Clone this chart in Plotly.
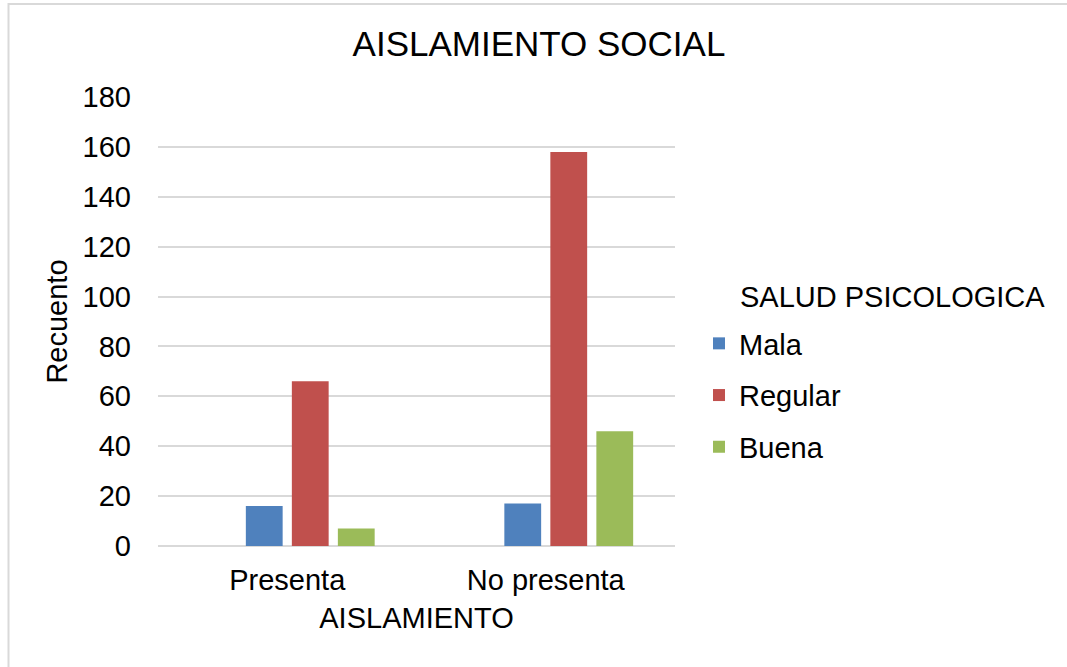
import plotly.graph_objects as go

# Counts of psychological health level by isolation status
categories = ["Presenta", "No presenta"]
mala = [16, 17]
regular = [66, 158]
buena = [7, 46]

series_names = ["Mala", "Regular", "Buena"]
series_values = [mala, regular, buena]
series_colors = ["#4F81BD", "#C0504D", "#9BBB59"]

y_ticks = [0, 20, 40, 60, 80, 100, 120, 140, 160, 180]

FONT = "Liberation Sans, Arial, sans-serif"
FS = 29

W, H = 1067, 667
L, R, T, B = 158, 392, 97, 121  # plot area margins in px
plot_w = W - L - R
plot_h = H - T - B


def px_to_paper_x(px):
    return (px - L) / plot_w


def px_to_paper_y(py):
    return (H - B - py) / plot_h


fig = go.Figure()

# empty leading series (keeps the first slot of each group blank)
fig.add_trace(go.Bar(x=categories, y=[None, None], name="", showlegend=False,
                     hoverinfo="skip", marker_color="rgba(0,0,0,0)"))

for name, vals, col in zip(series_names, series_values, series_colors):
    fig.add_trace(go.Bar(
        x=categories, y=vals, name=name,
        marker=dict(color=col, line=dict(width=0)),
        legendgroup=name,
    ))

fig.update_layout(
    width=W, height=H,
    margin=dict(l=L, r=R, t=T, b=B, pad=0),
    paper_bgcolor="white", plot_bgcolor="white",
    barmode="group", bargap=0.288, bargroupgap=0.2,
    font=dict(family=FONT, size=FS, color="#000000"),
    title=dict(text="AISLAMIENTO SOCIAL", x=539 / W, xanchor="center",
               y=1 - 44 / H, yanchor="middle", yref="container",
               font=dict(family=FONT, size=35, color="#000000")),
    showlegend=True,
    legend=dict(
        x=px_to_paper_x(699), xanchor="left",
        y=px_to_paper_y(318), yanchor="top",
        font=dict(family=FONT, size=FS, color="#000000"),
        bgcolor="rgba(0,0,0,0)", borderwidth=0,
        tracegroupgap=11, itemwidth=30,
    ),
    xaxis=dict(
        type="category", range=[-0.5, 1.5],
        showgrid=False, showline=False, zeroline=False,
        ticks="", ticklabelstandoff=14,
        tickfont=dict(family=FONT, size=FS, color="#000000"),
        title=dict(text="AISLAMIENTO", font=dict(family=FONT, size=FS, color="#000000"),
                   standoff=12),
    ),
    yaxis=dict(
        range=[0, 180], tickvals=y_ticks,
        showgrid=True, gridcolor="#D9D9D9", gridwidth=1.5,
        zeroline=True, zerolinecolor="#D9D9D9", zerolinewidth=1.5,
        showline=False, ticks="", ticklabelstandoff=26,
        tickfont=dict(family=FONT, size=FS, color="#000000"),
        title=dict(text="Recuento", font=dict(family=FONT, size=FS, color="#000000"),
                   standoff=6),
    ),
    annotations=[dict(
        text="SALUD PSICOLOGICA", xref="paper", yref="paper",
        x=px_to_paper_x(738), xanchor="left",
        y=px_to_paper_y(297), yanchor="middle",
        showarrow=False, font=dict(family=FONT, size=FS, color="#000000"),
    )],
    shapes=[dict(
        type="rect", xref="paper", yref="paper",
        x0=px_to_paper_x(8.5), x1=px_to_paper_x(W + 5),
        y0=px_to_paper_y(H + 5), y1=px_to_paper_y(4),
        line=dict(color="#D9D9D9", width=2), fillcolor="rgba(0,0,0,0)",
        layer="below",
    )],
)

fig.write_html("out.html")
